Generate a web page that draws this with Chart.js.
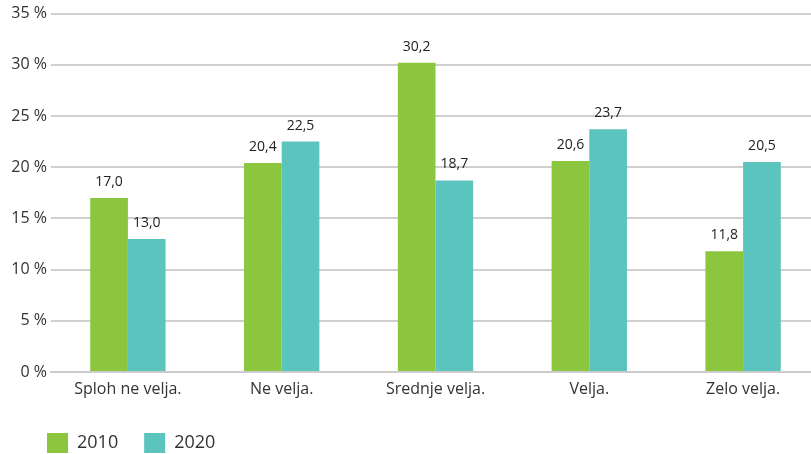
<!DOCTYPE html>
<html><head><meta charset="utf-8">
<script src="https://cdn.jsdelivr.net/npm/chart.js@4"></script>
<style>html,body{margin:0;padding:0;background:#fff;overflow:hidden}#wrap{width:820px;height:454px}</style>
</head><body><div id="wrap"><canvas id="c"></canvas></div>
<script>
const categories = ["Sploh ne velja.", "Ne velja.", "Srednje velja.", "Velja.", "Zelo velja."];
const series2010 = [17.0, 20.4, 30.2, 20.6, 11.8];
const series2020 = [13.0, 22.5, 18.7, 23.7, 20.5];
const yTicks = [0, 5, 10, 15, 20, 25, 30, 35];
const FONT = "'Open Sans'";
const labelPlugin = {
  id: 'vals',
  afterLayout(chart) {
    const lg = chart.legend;
    lg.left += 21; lg.right += 21;
    lg.top += 9; lg.bottom += 9;
  },
  afterDatasetsDraw(chart) {
    const ctx = chart.ctx;
    ctx.save();
    ctx.font = "500 14px " + FONT;
    ctx.fillStyle = "#222";
    ctx.textAlign = "center";
    ctx.textBaseline = "bottom";
    chart.data.datasets.forEach((ds, i) => {
      chart.getDatasetMeta(i).data.forEach((bar, j) => {
        ctx.fillText(ds.data[j].toFixed(1).replace('.', ','), bar.x, bar.y - 9);
      });
    });
    ctx.restore();
  }
};
new Chart(document.getElementById('c'), {
  type: 'bar',
  data: {
    labels: categories,
    datasets: [
      {label: '2010', data: series2010, backgroundColor: '#8CC63F'},
      {label: '2020', data: series2020, backgroundColor: '#5BC4BF'}
    ]
  },
  options: {
    responsive: true, maintainAspectRatio: false, animation: false,
    layout: {padding: {left: 0, right: 0, top: 0, bottom: 0}},
    datasets: {bar: {categoryPercentage: 0.49, barPercentage: 1}},
    scales: {
      x: {
        grid: {display: false},
        border: {color: '#ccc', width: 2},
        afterFit(s) { s.height = 26; },
        ticks: {color: '#333', font: {family: FONT, size: 16}, padding: 0}
      },
      y: {
        min: 0, max: 35,
        afterFit(s) { s.width = 51; },
        afterBuildTicks(s) { s.ticks = yTicks.map(v => ({value: v})); },
        grid: {color: '#cfcfcf', lineWidth: 2, drawTicks: false},
        border: {display: false},
        ticks: {color: '#333', font: {family: FONT, size: 16}, padding: 4,
          callback: v => v + ' %'}
      }
    },
    plugins: {
      legend: {
        position: 'bottom', align: 'start',
        labels: {boxWidth: 21, boxHeight: 20, padding: 26, color: '#333',
          font: {family: FONT, size: 18}}
      },
      tooltip: {enabled: false}
    }
  },
  plugins: [labelPlugin]
});
</script></body></html>
